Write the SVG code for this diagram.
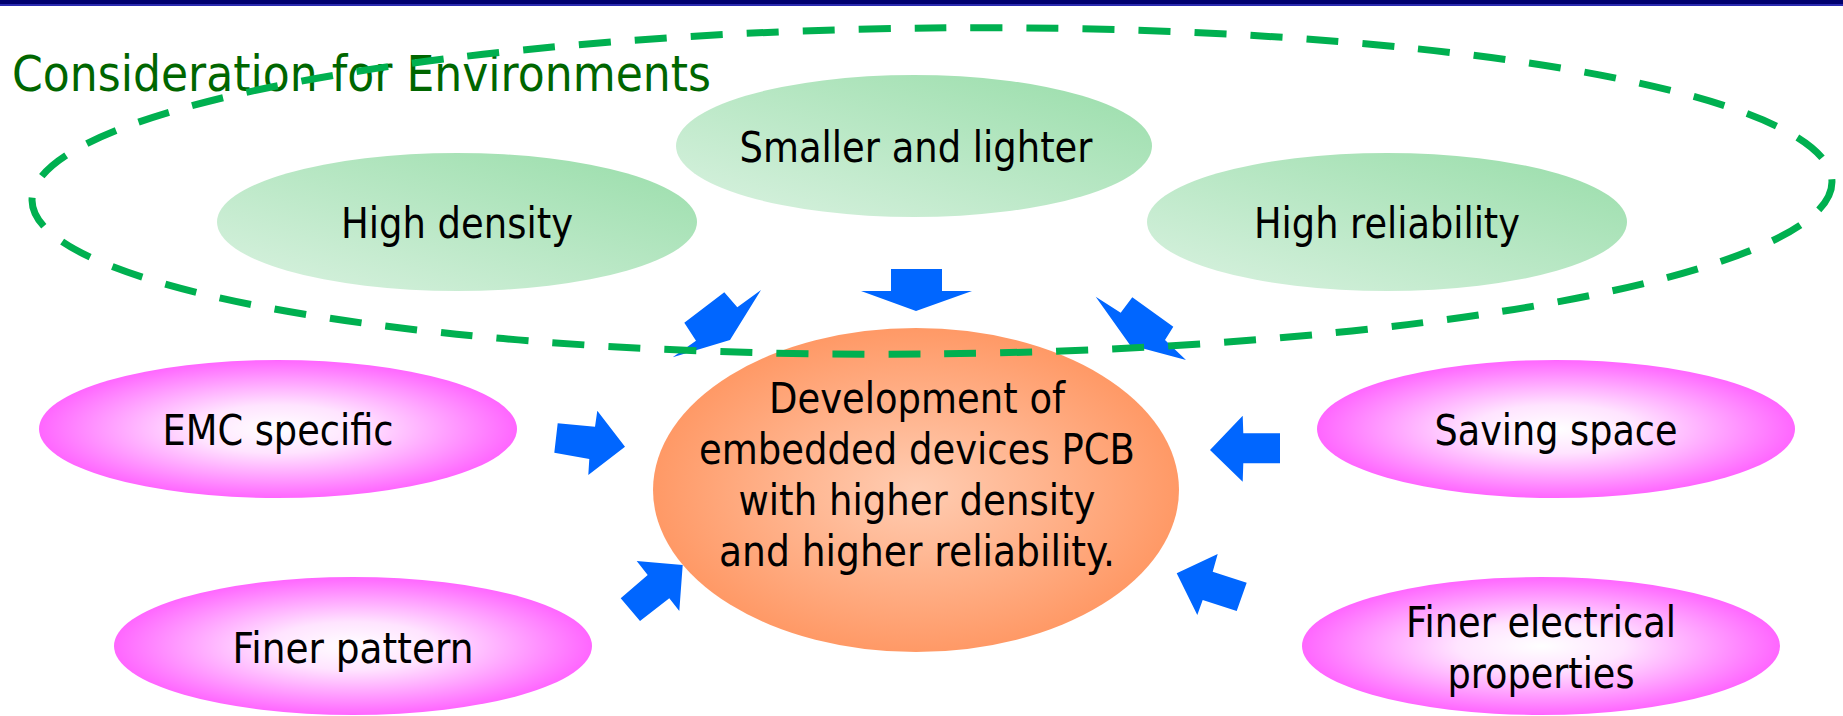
<svg xmlns="http://www.w3.org/2000/svg" width="1843" height="716" viewBox="0 0 1843 716">
<defs>
<linearGradient id="gGreen" x1="0" y1="1" x2="1" y2="0">
<stop offset="0" stop-color="#DAF2E1"/>
<stop offset="1" stop-color="#98DDA9"/>
</linearGradient>
<radialGradient id="gPink" cx="0.5" cy="0.5" r="0.5">
<stop offset="0" stop-color="#FFFFFF"/>
<stop offset="0.35" stop-color="#FFE4FF"/>
<stop offset="1" stop-color="#FF66FF"/>
</radialGradient>
<radialGradient id="gOrange" cx="0.5" cy="0.5" r="0.5">
<stop offset="0" stop-color="#FFCDB3"/>
<stop offset="1" stop-color="#FF9966"/>
</radialGradient>
</defs>
<style>
.lbl{font-family:"DejaVu Sans","Liberation Sans",sans-serif;font-size:42.5px;fill:#000;text-anchor:middle}
.green{fill:url(#gGreen)}
.pink{fill:url(#gPink)}
.arrow{fill:#0066FF}
</style>
<rect x="0" y="0" width="1843" height="716" fill="#FFFFFF"/>
<rect x="0" y="0" width="1843" height="4" fill="#00006E"/>
<rect x="0" y="4" width="1843" height="2" fill="#2A2AB0"/>

<g id="node-smaller">
<ellipse class="green" cx="914" cy="146" rx="238" ry="71"/>
<text class="lbl" x="916" y="162" textLength="353" lengthAdjust="spacingAndGlyphs">Smaller and lighter</text>
</g>
<g id="node-high-density">
<ellipse class="green" cx="457" cy="222" rx="240" ry="69"/>
<text class="lbl" x="457" y="238" textLength="232" lengthAdjust="spacingAndGlyphs">High density</text>
</g>
<g id="node-high-reliability">
<ellipse class="green" cx="1387" cy="222" rx="240" ry="69"/>
<text class="lbl" x="1387" y="238" textLength="266" lengthAdjust="spacingAndGlyphs">High reliability</text>
</g>
<g id="node-center">
<ellipse cx="916" cy="490" rx="263" ry="162" fill="url(#gOrange)"/>
<text class="lbl" x="917" y="413" textLength="296" lengthAdjust="spacingAndGlyphs">Development of</text>
<text class="lbl" x="917" y="464" textLength="436" lengthAdjust="spacingAndGlyphs">embedded devices PCB</text>
<text class="lbl" x="917" y="515" textLength="357" lengthAdjust="spacingAndGlyphs">with higher density</text>
<text class="lbl" x="917" y="566" textLength="396" lengthAdjust="spacingAndGlyphs">and higher reliability.</text>
</g>
<g id="node-emc">
<ellipse class="pink" cx="278" cy="429" rx="239" ry="69"/>
<text class="lbl" x="278" y="445" textLength="231" lengthAdjust="spacingAndGlyphs">EMC specific</text>
</g>
<g id="node-saving">
<ellipse class="pink" cx="1556" cy="429" rx="239" ry="69"/>
<text class="lbl" x="1556" y="445" textLength="243" lengthAdjust="spacingAndGlyphs">Saving space</text>
</g>
<g id="node-finer-pattern">
<ellipse class="pink" cx="353" cy="646" rx="239" ry="69"/>
<text class="lbl" x="353" y="663" textLength="241" lengthAdjust="spacingAndGlyphs">Finer pattern</text>
</g>
<g id="node-finer-electrical">
<ellipse class="pink" cx="1541" cy="646" rx="239" ry="69"/>
<text class="lbl" x="1541" y="637" textLength="270" lengthAdjust="spacingAndGlyphs">Finer electrical</text>
<text class="lbl" x="1541" y="688" textLength="187" lengthAdjust="spacingAndGlyphs">properties</text>
</g>

<g id="title">
<text x="12" y="91" font-family="DejaVu Sans, Liberation Sans, sans-serif" font-size="50.5" fill="#006600" textLength="699" lengthAdjust="spacingAndGlyphs">Consideration for Environments</text>
</g>

<g id="connectors">
<polygon class="arrow" points="891,269 942,269 942,291 972,291 916,311 861,291 891,291"/>
<polygon class="arrow" points="684.3,322.7 724.3,292.3 737.3,307.3 761,290 730,340 672.7,357.3 696,340.7"/>
<polygon class="arrow" points="1132.3,297.3 1173.3,326.7 1165,340 1186,360 1130,345 1095.7,296.7 1120.7,312.7"/>
<polygon class="arrow" points="557.7,423.3 595,426.7 597.3,410.7 625,446.7 588.3,475 589.3,459 554.3,452.7"/>
<polygon class="arrow" points="1280,433.3 1243.3,433.3 1242.7,415.7 1210,450 1242.7,481.7 1243.3,463.3 1280,463.3"/>
<polygon class="arrow" points="636.7,561 682.7,565 679.3,611 669.3,598.3 640,621 620.7,598.3 647.7,575"/>
<polygon class="arrow" points="1176.7,573.3 1217.7,554 1212.7,571.7 1246.7,582.7 1236.7,611 1202.7,600 1197.3,615"/>
</g>

<g id="environment-boundary">
<ellipse cx="932" cy="191" rx="900" ry="163" transform="rotate(-0.6 932 191)" fill="none" stroke="#00B050" stroke-width="7" stroke-dasharray="32 24"/>
</g>
</svg>
